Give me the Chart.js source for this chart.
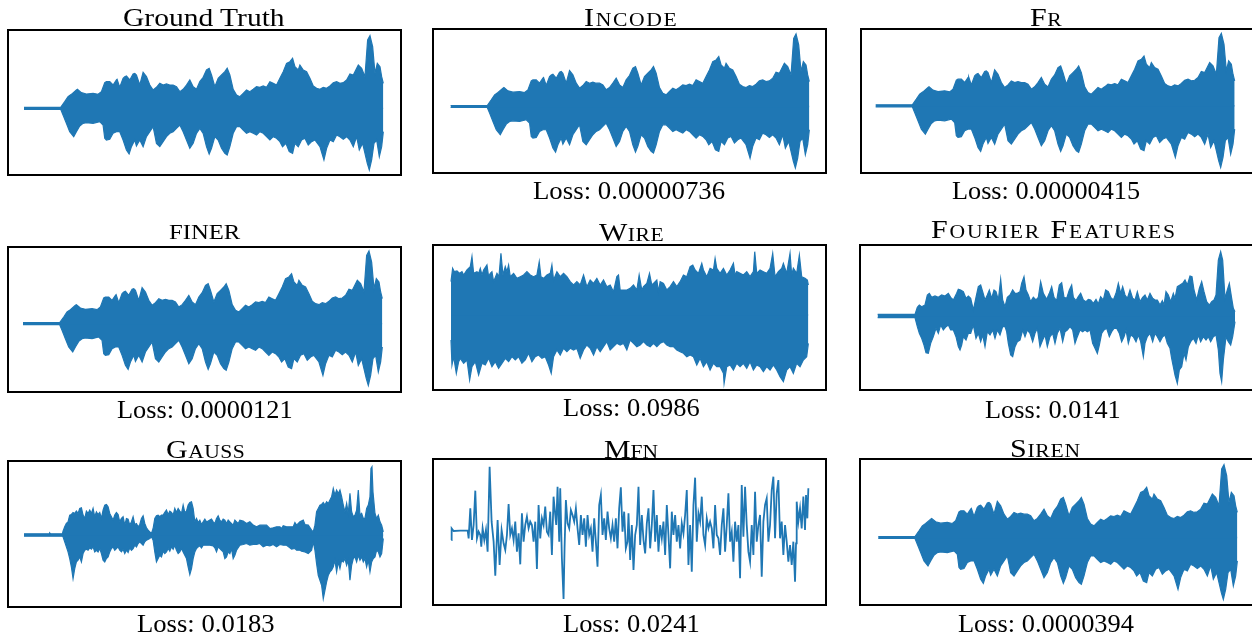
<!DOCTYPE html>
<html>
<head>
<meta charset="utf-8">
<title>Audio reconstruction</title>
<script src="https://cdn.jsdelivr.net/npm/chart.js@4.4.0/dist/chart.umd.min.js"></script>
<style>
  html, body { margin: 0; padding: 0; background: #fff; }
  body { position: relative; width: 1252px; height: 634px; overflow: hidden; }
  .panel { position: absolute; }
  .panel canvas { position: absolute; left: 0; top: 0; }
  .frame { position: absolute; left: -1px; top: -1px; right: -1px; bottom: -1px; border: 2px solid #000; pointer-events: none; }
  .lbl { position: absolute; white-space: nowrap; font-family: "Liberation Serif", "Times New Roman", serif; color: #000; line-height: 1; transform-origin: 0 0; }
</style>
</head>
<body>
<script>
// panel names and losses
const methods = ['Ground Truth', 'INCODE', 'FR', 'FINER', 'WIRE', 'FOURIER FEATURES', 'GAUSS', 'MFN', 'SIREN'];
const losses = [null, '0.00000736', '0.00000415', '0.0000121', '0.0986', '0.0141', '0.0183', '0.0241', '0.0000394'];

// waveform envelopes: [time, amplitude]
const gtUpper = [[0,3],[110,3],[122,20],[132,35],[142,42],[157,55],[160,57],[172,47],[187,43],[207,45],[222,42],[232,50],[242,77],[247,80],[257,80],[267,70],[277,85],[279,87],[287,63],[297,90],[302,95],[307,97],[317,85],[327,103],[332,105],[337,100],[347,70],[357,108],[367,95],[377,70],[387,55],[397,63],[407,75],[417,70],[427,73],[437,70],[447,70],[457,65],[467,50],[477,57],[487,70],[497,85],[507,65],[517,57],[527,80],[537,93],[547,115],[555,120],[562,100],[572,65],[582,90],[592,100],[602,110],[609,120],[617,100],[627,57],[637,40],[647,35],[657,45],[667,55],[677,50],[687,57],[697,65],[707,63],[717,67],[727,63],[737,80],[747,75],[757,70],[767,90],[777,110],[787,135],[797,140],[805,150],[812,125],[822,115],[827,130],[837,115],[847,110],[857,90],[867,67],[877,60],[887,57],[897,63],[907,60],[917,67],[927,77],[937,80],[947,75],[957,77],[967,85],[977,103],[987,100],[1002,130],[1012,120],[1022,95],[1030,205],[1037,218],[1045,185],[1052,105],[1059,135],[1067,125],[1072,95],[1077,75]];
const gtLower = [[0,-3],[110,-3],[117,-20],[127,-45],[137,-70],[149,-85],[157,-70],[167,-53],[177,-45],[187,-43],[207,-45],[227,-40],[237,-50],[242,-90],[247,-95],[257,-93],[267,-75],[277,-70],[287,-70],[297,-95],[307,-125],[315,-137],[322,-115],[332,-95],[337,-113],[347,-95],[357,-115],[367,-85],[377,-70],[387,-55],[392,-80],[397,-105],[407,-115],[417,-100],[427,-85],[437,-75],[447,-70],[457,-60],[467,-50],[477,-70],[487,-95],[497,-120],[507,-105],[517,-75],[527,-60],[537,-75],[547,-115],[555,-137],[562,-120],[572,-85],[582,-95],[592,-120],[602,-135],[609,-140],[617,-115],[627,-75],[637,-55],[647,-55],[657,-65],[667,-75],[677,-70],[687,-75],[697,-80],[707,-70],[717,-75],[727,-85],[737,-95],[747,-85],[757,-90],[767,-100],[775,-115],[785,-105],[795,-130],[805,-135],[812,-105],[822,-115],[832,-95],[842,-90],[852,-110],[862,-100],[872,-95],[887,-115],[899,-155],[907,-120],[917,-95],[927,-100],[937,-80],[947,-85],[957,-93],[967,-85],[977,-95],[987,-115],[997,-85],[1005,-125],[1015,-105],[1022,-135],[1029,-165],[1035,-185],[1042,-155],[1049,-105],[1057,-95],[1065,-145],[1072,-115],[1077,-70]];

const wireUpper = [[0,100],[5,140],[10,130],[18,132],[26,125],[33,130],[38,120],[48,135],[58,145],[63,175],[68,125],[78,130],[83,125],[88,140],[93,120],[98,135],[108,150],[113,115],[118,125],[123,130],[128,100],[138,125],[144,115],[150,185],[156,120],[163,145],[168,130],[173,150],[178,115],[188,125],[198,110],[208,115],[218,120],[228,130],[238,120],[248,115],[258,120],[265,160],[270,115],[278,110],[288,120],[298,125],[303,150],[308,105],[318,130],[328,115],[338,125],[348,115],[358,100],[368,90],[378,100],[388,90],[398,120],[408,85],[418,105],[428,95],[438,110],[448,90],[458,105],[468,85],[478,90],[488,70],[498,115],[503,120],[508,75],[518,75],[528,75],[538,80],[548,90],[558,75],[565,120],[573,75],[578,85],[588,95],[596,125],[603,90],[608,95],[618,105],[623,70],[628,100],[638,95],[648,75],[658,85],[668,100],[678,85],[688,100],[698,120],[708,115],[718,145],[726,150],[733,135],[743,125],[753,155],[758,135],[768,115],[778,140],[788,135],[793,170],[798,140],[808,125],[818,140],[828,120],[838,135],[848,155],[853,120],[858,130],[868,125],[878,120],[888,130],[898,115],[908,130],[912,190],[918,125],[928,135],[938,130],[948,125],[958,140],[966,185],[973,115],[983,130],[993,140],[998,155],[1008,125],[1018,185],[1023,120],[1028,140],[1038,125],[1046,180],[1053,115],[1063,110],[1070,105],[1073,90]];
const wireLower = [[0,-75],[3,-150],[8,-125],[16,-175],[23,-140],[28,-130],[38,-145],[48,-135],[56,-195],[63,-155],[73,-140],[83,-180],[93,-145],[103,-150],[113,-130],[123,-155],[133,-140],[143,-160],[153,-145],[163,-130],[173,-140],[183,-125],[193,-135],[203,-125],[213,-145],[223,-135],[233,-115],[243,-140],[253,-125],[263,-120],[273,-130],[283,-125],[293,-150],[301,-175],[308,-125],[318,-105],[328,-120],[338,-100],[348,-110],[358,-100],[368,-105],[378,-100],[388,-130],[398,-105],[408,-90],[418,-100],[428,-120],[438,-95],[448,-110],[458,-95],[468,-80],[478,-105],[488,-95],[498,-85],[508,-90],[518,-85],[528,-105],[538,-75],[548,-85],[558,-95],[568,-90],[578,-80],[588,-90],[598,-95],[608,-85],[618,-95],[628,-85],[638,-80],[648,-90],[658,-95],[668,-95],[678,-105],[688,-110],[698,-115],[708,-125],[718,-120],[728,-125],[738,-150],[748,-130],[758,-155],[768,-140],[778,-165],[788,-145],[798,-155],[808,-155],[818,-175],[820,-205],[828,-155],[838,-150],[848,-165],[858,-145],[868,-155],[878,-145],[888,-160],[898,-140],[908,-165],[918,-150],[928,-155],[938,-170],[948,-155],[958,-165],[968,-150],[978,-165],[988,-185],[998,-200],[1008,-165],[1018,-155],[1028,-175],[1038,-145],[1048,-155],[1058,-135],[1068,-125],[1073,-85]];

const ffUpper = [[0,5],[112,5],[119,26],[125,33],[132,28],[142,33],[149,63],[155,68],[162,56],[172,60],[182,56],[192,63],[202,60],[212,68],[219,56],[227,48],[237,68],[242,80],[249,78],[257,73],[265,53],[272,60],[279,53],[287,18],[295,56],[302,88],[309,93],[315,73],[322,48],[329,63],[335,78],[342,53],[349,78],[355,73],[362,48],[369,110],[375,48],[382,28],[389,56],[397,63],[405,78],[412,68],[419,68],[427,73],[432,98],[439,118],[445,78],[452,63],[459,43],[467,56],[475,48],[482,56],[489,103],[497,68],[507,50],[515,68],[522,88],[529,56],[537,46],[545,93],[552,100],[559,56],[567,53],[575,78],[582,93],[587,56],[595,46],[602,58],[609,68],[617,48],[625,43],[632,50],[639,48],[647,38],[655,50],[662,36],[669,58],[677,48],[684,78],[692,73],[699,56],[707,48],[715,68],[722,98],[729,68],[735,88],[742,63],[749,53],[757,78],[765,53],[772,48],[779,73],[787,43],[795,56],[802,63],[809,48],[817,68],[825,53],[832,48],[839,48],[847,33],[854,46],[859,33],[865,73],[872,63],[879,43],[887,68],[892,53],[899,88],[907,93],[915,98],[922,108],[929,93],[937,120],[943,118],[949,78],[957,48],[965,83],[972,103],[979,73],[987,43],[995,33],[1002,43],[1009,48],[1015,63],[1022,168],[1029,193],[1035,168],[1042,53],[1049,78],[1055,98],[1062,53],[1067,23],[1072,13]];
const ffLower = [[0,-5],[112,-5],[119,-32],[125,-52],[132,-67],[139,-87],[145,-110],[152,-112],[159,-82],[167,-62],[175,-37],[182,-52],[189,-27],[197,-42],[205,-32],[212,-27],[219,-42],[227,-42],[235,-62],[242,-92],[247,-102],[252,-87],[257,-62],[265,-72],[272,-52],[279,-52],[287,-27],[295,-67],[302,-52],[309,-77],[315,-57],[322,-92],[329,-47],[337,-57],[345,-42],[352,-67],[359,-42],[367,-57],[375,-32],[382,-32],[387,-47],[392,-82],[399,-117],[405,-122],[412,-92],[419,-77],[427,-72],[435,-42],[442,-62],[449,-42],[457,-52],[465,-77],[472,-52],[479,-37],[487,-92],[495,-72],[502,-57],[509,-92],[517,-62],[525,-52],[532,-82],[539,-52],[547,-37],[555,-77],[562,-47],[569,-42],[577,-32],[585,-42],[592,-82],[599,-62],[607,-42],[615,-47],[622,-42],[629,-47],[637,-42],[645,-82],[652,-97],[659,-112],[665,-87],[672,-52],[679,-42],[687,-37],[695,-62],[702,-47],[709,-37],[717,-37],[725,-52],[732,-77],[739,-62],[745,-42],[752,-82],[759,-57],[767,-62],[775,-77],[782,-57],[789,-77],[797,-122],[802,-82],[809,-62],[817,-52],[825,-77],[832,-52],[839,-62],[847,-77],[855,-62],[862,-57],[869,-82],[877,-97],[882,-127],[887,-152],[892,-177],[899,-202],[905,-162],[912,-152],[919,-112],[925,-132],[932,-92],[939,-77],[947,-67],[955,-82],[962,-57],[969,-77],[977,-62],[985,-72],[992,-62],[999,-77],[1007,-62],[1015,-57],[1022,-102],[1027,-172],[1032,-197],[1037,-132],[1045,-62],[1052,-77],[1059,-87],[1065,-62],[1072,-17]];

const gaussUpper = [[0,4],[75,4],[77,7],[80,4],[115,4],[117,12],[122,25],[127,35],[132,40],[137,60],[142,62],[147,68],[152,65],[157,72],[162,65],[167,80],[172,82],[177,60],[182,50],[187,72],[192,65],[197,75],[202,65],[207,80],[212,55],[217,70],[222,62],[227,68],[232,50],[237,75],[242,90],[247,92],[252,85],[257,65],[262,55],[267,45],[272,60],[277,68],[282,62],[287,40],[292,50],[297,55],[302,30],[307,50],[312,48],[317,30],[322,40],[327,55],[332,32],[337,35],[342,25],[347,32],[352,50],[357,58],[362,35],[367,22],[372,15],[377,10],[382,5],[387,20],[392,50],[397,58],[402,60],[407,55],[412,60],[417,60],[422,68],[427,75],[432,62],[437,72],[442,68],[447,60],[452,80],[457,68],[462,80],[467,72],[472,65],[477,90],[482,68],[487,72],[492,90],[497,98],[502,100],[507,80],[512,40],[517,50],[522,38],[527,45],[532,32],[537,40],[542,48],[547,40],[552,42],[557,45],[562,48],[567,40],[572,35],[577,50],[582,58],[587,45],[592,40],[597,48],[602,45],[607,35],[612,45],[617,40],[627,30],[632,45],[637,40],[642,35],[647,45],[657,42],[667,35],[677,40],[687,30],[697,25],[707,30],[717,30],[727,30],[737,20],[747,22],[757,25],[767,25],[772,20],[777,28],[787,25],[797,25],[807,25],[812,38],[817,30],[827,40],[837,45],[842,32],[852,30],[862,15],[867,10],[872,30],[877,70],[882,80],[887,90],[892,92],[897,98],[902,90],[907,100],[912,95],[917,105],[922,115],[927,140],[932,120],[937,135],[942,125],[947,135],[952,115],[957,90],[962,70],[967,95],[972,65],[977,125],[982,70],[987,55],[992,60],[997,75],[1002,135],[1007,60],[1012,65],[1017,50],[1022,50],[1027,80],[1032,90],[1037,115],[1040,200],[1043,205],[1046,130],[1052,65],[1057,50],[1062,60],[1067,40],[1072,30],[1077,10]];
const gaussLower = [[0,-3],[115,-3],[117,-5],[122,-20],[127,-35],[132,-50],[137,-70],[142,-95],[147,-130],[152,-100],[157,-80],[162,-75],[167,-65],[172,-80],[177,-55],[182,-45],[187,-42],[192,-45],[197,-38],[202,-42],[207,-35],[212,-50],[217,-45],[222,-50],[227,-40],[232,-55],[237,-75],[242,-80],[247,-70],[252,-65],[257,-50],[262,-40],[267,-35],[272,-45],[277,-40],[282,-35],[287,-45],[292,-50],[297,-42],[302,-55],[307,-45],[312,-52],[317,-38],[322,-45],[327,-40],[332,-30],[337,-35],[342,-25],[347,-20],[352,-25],[357,-30],[362,-20],[367,-15],[377,-10],[382,-5],[387,-15],[392,-50],[397,-80],[402,-70],[407,-60],[412,-65],[417,-48],[422,-55],[427,-50],[432,-40],[437,-48],[442,-35],[447,-42],[452,-30],[457,-45],[462,-55],[467,-50],[472,-40],[477,-50],[482,-60],[487,-70],[492,-95],[497,-118],[502,-100],[507,-70],[512,-50],[517,-40],[522,-35],[527,-32],[532,-38],[537,-30],[547,-30],[557,-30],[567,-32],[572,-38],[577,-50],[582,-35],[592,-45],[597,-50],[602,-70],[607,-65],[612,-50],[617,-55],[622,-40],[627,-70],[632,-60],[637,-45],[647,-30],[657,-28],[667,-25],[677,-30],[687,-28],[697,-28],[707,-25],[717,-35],[727,-30],[737,-32],[747,-28],[757,-35],[767,-28],[777,-30],[787,-30],[797,-38],[802,-42],[812,-40],[817,-45],[827,-45],[832,-48],[842,-50],[852,-55],[862,-45],[867,-20],[872,-45],[877,-85],[882,-120],[887,-135],[892,-150],[897,-190],[902,-165],[907,-140],[912,-120],[917,-110],[922,-105],[927,-95],[932,-75],[937,-110],[942,-80],[947,-100],[952,-75],[957,-80],[962,-70],[967,-90],[972,-75],[977,-135],[982,-90],[987,-70],[992,-65],[997,-80],[1002,-60],[1007,-75],[1012,-65],[1017,-80],[1022,-70],[1027,-95],[1032,-75],[1037,-110],[1042,-80],[1047,-70],[1052,-65],[1057,-45],[1062,-50],[1067,-65],[1072,-55],[1077,-10]];

// MFN output is coarse enough to follow sample by sample
const mfnSignal = [[0,-29],[1,6],[7,-2],[27,-1],[49,0],[52,-24],[57,66],[62,-29],[67,16],[72,119],[77,-24],[82,-4],[87,-14],[90,-49],[94,6],[99,-29],[104,1],[109,-64],[115,191],[121,26],[127,-34],[132,-136],[139,31],[145,-104],[151,1],[157,-39],[162,-59],[167,-14],[172,79],[177,-14],[182,6],[187,-29],[192,26],[197,-64],[202,-9],[207,-102],[212,51],[217,-34],[222,16],[227,41],[232,6],[237,26],[242,16],[247,-34],[252,26],[257,-116],[262,76],[267,-24],[272,36],[277,16],[282,71],[287,-4],[292,-14],[297,56],[302,-74],[307,101],[312,46],[315,16],[319,131],[324,-34],[327,126],[332,-84],[337,-206],[340,-54],[344,91],[349,21],[354,6],[359,61],[364,46],[369,26],[374,66],[379,6],[384,-44],[389,46],[394,-14],[399,36],[404,-49],[409,46],[414,-14],[419,6],[424,-64],[429,36],[434,-34],[439,-109],[444,76],[449,106],[454,-14],[459,36],[464,-29],[469,56],[474,6],[479,-24],[484,16],[489,-34],[494,36],[499,-54],[504,66],[509,129],[514,-4],[519,56],[524,-54],[529,-34],[532,51],[537,-89],[542,16],[547,-119],[552,-14],[557,16],[562,131],[567,-44],[572,46],[577,-29],[582,-69],[587,21],[592,66],[597,-54],[602,16],[607,121],[612,-34],[617,46],[622,-64],[627,16],[632,-24],[637,26],[642,-74],[647,76],[652,-14],[657,-114],[662,56],[667,-14],[672,46],[677,-34],[682,16],[687,-54],[692,21],[697,-9],[702,46],[707,121],[712,-104],[717,16],[722,-124],[727,76],[732,158],[737,-34],[742,51],[747,26],[752,101],[757,-14],[762,-44],[767,36],[772,6],[777,26],[782,6],[787,-54],[792,76],[797,-14],[802,-24],[807,-74],[812,16],[817,66],[822,-64],[827,16],[832,111],[837,-34],[842,-4],[847,-94],[852,26],[857,-34],[862,16],[867,-144],[872,136],[877,-19],[882,131],[887,16],[892,-64],[897,-94],[902,16],[907,-74],[912,116],[917,-34],[922,16],[927,46],[932,-139],[937,26],[942,76],[947,96],[952,-34],[957,16],[962,121],[967,161],[972,-24],[977,111],[982,151],[987,-24],[992,26],[997,-74],[1002,16],[1007,-34],[1012,-94],[1017,-44],[1022,-104],[1027,-34],[1032,-154],[1035,-39],[1037,86],[1042,26],[1047,66],[1052,6],[1057,101],[1062,1],[1065,106],[1069,36],[1072,126]];

// page layout (pixels) and axis ranges per panel
const BLUE = '#1f77b4';
const panels = [
  { up: gtUpper,    lo: gtLower,    box: [8, 30, 401, 175],    x: [-48, 1130], y: [-200, 235], title: [203.5, 26, 161.6], loss: null,               caps: 'none' },
  { up: gtUpper,    lo: gtLower,    box: [433, 29, 826, 173],  x: [-53, 1127], y: [-200, 233], title: [630.3, 26, 92.7],  loss: [629, 199, 192],     caps: 'sc' },
  { up: gtUpper,    lo: gtLower,    box: [861, 29, 1254, 173], x: [-44, 1135], y: [-202, 231], title: [1046, 26, 31.7],   loss: [1046, 199, 188],    caps: 'sc' },
  { up: gtUpper,    lo: gtLower,    box: [8, 247, 401, 392],   x: [-45, 1133], y: [-205, 230], title: [205, 239, 71.3],   loss: [204.5, 418, 175.6], caps: 'all' },
  { up: wireUpper,  lo: wireLower,  box: [433, 245, 826, 390], x: [-54, 1126], y: [-225, 210], title: [631.7, 241, 64.7], loss: [631, 416, 136.7],   caps: 'sc' },
  { up: ffUpper,    lo: ffLower,    box: [860, 245, 1253, 390], x: [-53, 1126], y: [-222, 213], title: [1053, 238, 244],  loss: [1052.8, 418, 135.7], caps: 'sc' },
  { up: gaussUpper, lo: gaussLower, box: [8, 461, 401, 607],   x: [-48, 1130], y: [-215, 222], title: [205, 458, 78.7],   loss: [205.5, 632, 137.7], caps: 'sc' },
  { line: mfnSignal,                box: [433, 459, 826, 605], x: [-55, 1125], y: [-224, 214], title: [631.3, 458, 54],   loss: [631, 632, 136.7],   caps: 'sc' },
  { up: gtUpper,    lo: gtLower,    box: [860, 459, 1253, 605], x: [-55, 1124], y: [-202, 235], title: [1045, 457, 70],   loss: [1046.3, 632, 176],  caps: 'sc' }
];

const TITLE_PX = 25, SMALL_PX = 18, ALLSMALL_PX = 21, LOSS_PX = 25.5;
const toPts = arr => arr.map(([t, a]) => ({ x: t, y: a }));

function makeChart(p) {
  const [l, t, r, b] = p.box;
  const wrap = document.createElement('div');
  wrap.className = 'panel';
  Object.assign(wrap.style, { left: l + 'px', top: t + 'px', width: (r - l) + 'px', height: (b - t) + 'px' });
  const cv = document.createElement('canvas');
  cv.width = r - l; cv.height = b - t;
  wrap.appendChild(cv);
  const frame = document.createElement('div');
  frame.className = 'frame';
  wrap.appendChild(frame);
  document.body.appendChild(wrap);

  let datasets;
  if (p.line) {
    datasets = [{ data: toPts(p.line), borderColor: BLUE, borderWidth: 1.8, fill: false }];
  } else {
    // upper and lower halves overlap a little round zero so no seam shows
    datasets = [
      { data: toPts(p.up), borderColor: BLUE, backgroundColor: BLUE, borderWidth: 1.2, fill: { value: -2 } },
      { data: toPts(p.lo), borderColor: BLUE, backgroundColor: BLUE, borderWidth: 1.2, fill: { value: 2 } }
    ];
  }
  new Chart(cv, {
    type: 'line',
    data: { datasets },
    options: {
      responsive: false, animation: false, events: [],
      layout: { padding: 0 },
      elements: { point: { radius: 0 }, line: { tension: 0 } },
      plugins: { legend: { display: false }, tooltip: { enabled: false } },
      scales: {
        x: { type: 'linear', display: false, min: p.x[0], max: p.x[1] },
        y: { type: 'linear', display: false, min: p.y[0], max: p.y[1] }
      }
    }
  });
}

// text placed by baseline; widened to the reference width (stretch first, then spacing)
function placeText(el, size, cx, baseline, width) {
  el.className = 'lbl';
  el.style.fontSize = size + 'px';
  el.style.top = (baseline - 0.8375 * size) + 'px';
  el.style.left = '0px';
  document.body.appendChild(el);
  const w = el.getBoundingClientRect().width;
  const n = el.textContent.length;
  const sx = Math.max(0.9, Math.min(width / w, 1.2));
  const ls = n > 1 ? (width / sx - w) / (n - 1) : 0;
  el.style.letterSpacing = ls.toFixed(2) + 'px';
  el.style.transform = 'scaleX(' + sx.toFixed(3) + ')';
  el.style.left = (cx - width / 2) + 'px';
}

function titleEl(name, caps) {
  const el = document.createElement('div');
  if (caps === 'none') { el.textContent = name; return el; }
  if (caps === 'all') {
    const s = document.createElement('span');
    s.style.fontSize = ALLSMALL_PX + 'px';
    s.textContent = name;
    el.appendChild(s);
    return el;
  }
  name.split(' ').forEach((word, i) => {
    if (i > 0) el.appendChild(document.createTextNode(' '));
    el.appendChild(document.createTextNode(word[0]));
    if (word.length > 1) {
      const s = document.createElement('span');
      s.style.fontSize = SMALL_PX + 'px';
      s.textContent = word.slice(1);
      el.appendChild(s);
    }
  });
  return el;
}

panels.forEach((p, i) => {
  makeChart(p);
  placeText(titleEl(methods[i], p.caps), TITLE_PX, p.title[0], p.title[1], p.title[2]);
  if (p.loss) {
    const el = document.createElement('div');
    el.textContent = 'Loss: ' + losses[i];
    placeText(el, LOSS_PX, p.loss[0], p.loss[1], p.loss[2]);
  }
});
</script>
</body>
</html>
